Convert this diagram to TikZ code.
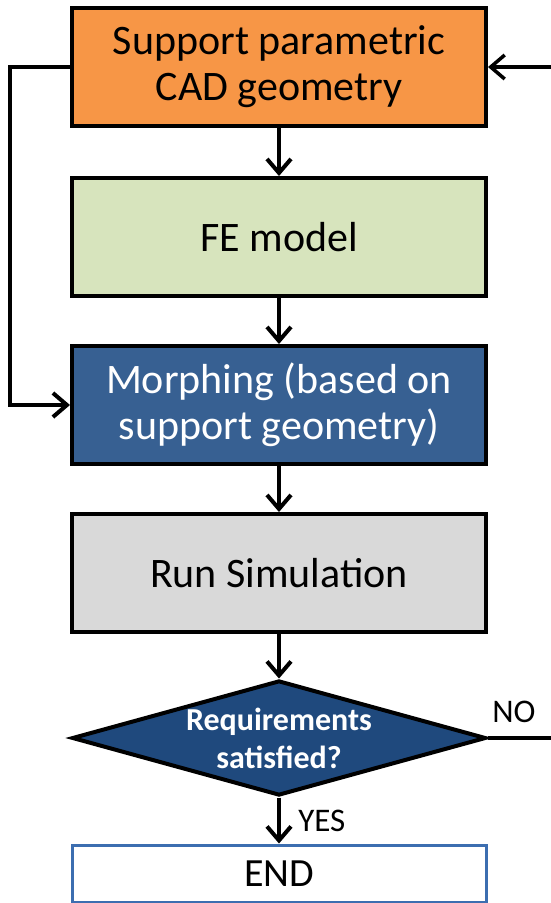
\documentclass[tikz,border=0pt]{standalone}
\usepackage{fontspec}
\setmainfont{Carlito}
\usepackage{xcolor}
\usetikzlibrary{arrows.meta,positioning,shapes.geometric}

\definecolor{cadorange}{HTML}{F79646}
\definecolor{fegreen}{HTML}{D7E4BD}
\definecolor{morphblue}{HTML}{376092}
\definecolor{simgray}{HTML}{D9D9D9}
\definecolor{checkblue}{HTML}{1F497D}
\definecolor{endblue}{HTML}{3C6EB0}

\begin{document}
\begin{tikzpicture}[
    x=1pt,y=-1pt,
    stage/.style={draw, line width=4pt, align=center, minimum width=414pt,
                  minimum height=118pt, inner sep=0pt,
                  font=\fontsize{42}{46}\selectfont},
    check/.style={diamond, draw, line width=4pt, fill=checkblue,
                  minimum width=414pt, minimum height=115pt, inner sep=0pt},
    lbl/.style={font=\fontsize{33}{38}\selectfont},
    arrow/.style={-{Straight Barb[length=14pt,width=24pt]}, line width=4pt}
]
\useasboundingbox (0,0) rectangle (550,903);

% Process stages
\node[stage, fill=cadorange] (cad) at (279,67) {Support parametric\\CAD geometry};
\node[stage, fill=fegreen] (fe) at (279,237) {FE model};
\node[stage, fill=morphblue, text=white] (morph) at (279,405) {Morphing (based on\\support geometry)};
\node[stage, fill=simgray] (sim) at (279,573) {Run Simulation};
\draw[arrow] (cad.south) -- (fe.north);
\draw[arrow] (fe.south) -- (morph.north);
\draw[arrow] (morph.south) -- (sim.north);

% Decision and end
\node[check] (req) at (279,738) {};
\node[text=white, align=center, font=\fontsize{32}{38}\selectfont\bfseries] (reqtxt) at (req.center) {Requirements\\satisfied?};
\node[stage, draw=endblue, line width=3pt, minimum height=57pt, font=\fontsize{40}{44}\selectfont] (done) at (279,873.5) {END};
\draw[arrow] (sim.south) -- (req.north);
\draw[arrow] (req.south) -- (done.north) node[midway, right=14pt, lbl] {YES};
\draw[arrow, line width=3.5pt] (req.east) -- ++(80,0) |- (cad.east);
\node[lbl] (no) at (514,712) {NO};

% Geometry feeds morphing directly
\draw[arrow] (cad.west) -- ++(-60,0) |- (morph.west);
\end{tikzpicture}
\end{document}
